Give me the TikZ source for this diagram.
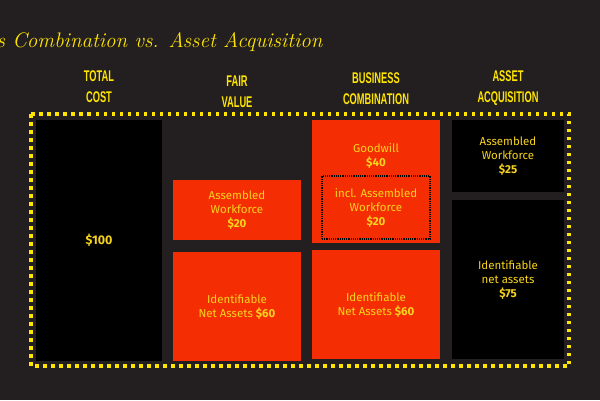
\documentclass[tikz,border=0pt]{standalone}
\usepackage{fontspec}
\usepackage{xcolor}
\usepackage{tikz}
\usetikzlibrary{positioning}

\newfontfamily\boxfont{Fira Sans}
\newfontfamily\headfont{Liberation Sans}[FakeStretch=0.6]

\definecolor{bgdark}{HTML}{231F20}
\definecolor{hiyellow}{HTML}{FFE500}
\definecolor{txtyellow}{HTML}{F8D41C}
\definecolor{boxred}{HTML}{F42D02}

\begin{document}
\begin{tikzpicture}[
  x=1pt, y=-1pt,
  head/.style={align=center, text=hiyellow, font=\headfont\bfseries\fontsize{15.5}{21}\selectfont},
  cell/.style={anchor=north west, inner sep=0pt, outer sep=0pt, align=center,
    text=txtyellow, font=\boxfont\fontsize{11.5}{14}\selectfont},
  redbox/.style={cell, fill=boxred},
  blackbox/.style={cell, fill=black},
  lbl/.style={align=center, inner sep=0pt, text=txtyellow, font=\boxfont\fontsize{11.5}{14}\selectfont}
]
  \useasboundingbox[fill=bgdark] (0,0) rectangle (600,400);

  % title, its start runs off the page
  \node[anchor=east, text=hiyellow, font=\itshape\fontsize{21}{24}\selectfont] (title) at (326,42)
    {Business Combination vs. Asset Acquisition};

  % column heads
  \node[head] (hcost) at (99,86.5) {TOTAL\\COST};
  \node[head] (hfair) at (237,91.5) {FAIR\\VALUE};
  \node[head] (hbc) at (376,88.5) {BUSINESS\\COMBINATION};
  \node[head] (haa) at (508,88.5) {ASSET\\ACQUISITION};

  % yellow dotted frame
  \draw[hiyellow, line width=3.5pt, dash pattern=on 3.5pt off 4.5pt] (31,114) rectangle (569,366);

  % total cost
  \node[blackbox, minimum width=126pt, minimum height=241pt, font=\boxfont\fontsize{12.5}{14}\selectfont]
    (cost) at (36,120) {\textbf{\$100}};

  % fair value
  \node[redbox, minimum width=128pt, minimum height=60pt] (fvwork) at (173,180)
    {Assembled\\Workforce\\\textbf{\$20}};
  \node[redbox, minimum width=128pt, minimum height=109pt] (fvnet) at (173,252)
    {Identifiable\\Net Assets \textbf{\$60}};

  % business combination
  \node[redbox, minimum width=128pt, minimum height=123pt] (bcgood) at (312,120) {};
  \node[lbl] (goodtxt) at (376,156) {Goodwill\\\textbf{\$40}};
  \node[draw=black, densely dotted, line width=1.2pt, lbl, minimum width=108pt, minimum height=63pt]
    (bcwork) at (376,207.5) {incl. Assembled\\Workforce\\\textbf{\$20}};
  \node[redbox, minimum width=128pt, minimum height=109pt] (bcnet) at (312,250)
    {Identifiable\\Net Assets \textbf{\$60}};

  % asset acquisition
  \node[blackbox, minimum width=112pt, minimum height=72pt] (aawork) at (452,120)
    {Assembled\\Workforce\\\textbf{\$25}};
  \node[blackbox, minimum width=112pt, minimum height=159pt] (aanet) at (452,200)
    {Identifiable\\net assets\\\textbf{\$75}};
\end{tikzpicture}
\end{document}
